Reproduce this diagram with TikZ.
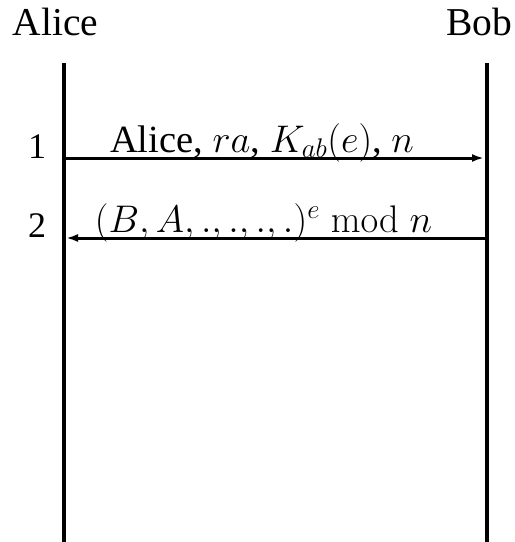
\documentclass[tikz,border=0pt]{standalone}
\usepackage{fix-cm}
\usepackage[no-math]{fontspec}
\setmainfont{Liberation Serif}
\usetikzlibrary{arrows.meta}
\begin{document}
\begin{tikzpicture}[x=1pt,y=-1pt,
  lifeline/.style={line width=4pt},
  msg/.style={line width=3pt,-{Latex[length=12pt,width=8pt]},shorten >=1pt},
  who/.style={font=\fontsize{39.5}{44}\selectfont,inner sep=0pt,anchor=base},
  msglabel/.style={font=\fontsize{38.5}{44}\selectfont,inner sep=0pt,anchor=base},
  num/.style={font=\fontsize{36}{40}\selectfont,inner sep=0pt,anchor=base}]
\useasboundingbox (0,0) rectangle (515,542);
\node[who] (alice) at (55.5,35) {Alice};
\node[who] (bob) at (479,35) {Bob};
\coordinate (atop) at (63.5,63);
\coordinate (abot) at (63.5,542);
\coordinate (btop) at (487,63);
\coordinate (bbot) at (487,542);
\draw[lifeline] (atop) -- (abot);
\draw[lifeline] (btop) -- (bbot);
\coordinate (a1) at (65,158);
\coordinate (b1) at (485,158);
\coordinate (a2) at (65,238);
\coordinate (b2) at (485,238);
\draw[msg] (a1) -- (b1);
\draw[msg] (b2) -- (a2);
\node[msglabel] (l1) at (262,152) {Alice, $ra$, $K_{ab}(e)$, $n$};
\node[msglabel] (l2) at (263.5,232) {$(B,A,.,.,.,.)^e \bmod n$};
\node[num] (n1) at (37,158) {1};
\node[num] (n2) at (37,237) {2};
\end{tikzpicture}
\end{document}
